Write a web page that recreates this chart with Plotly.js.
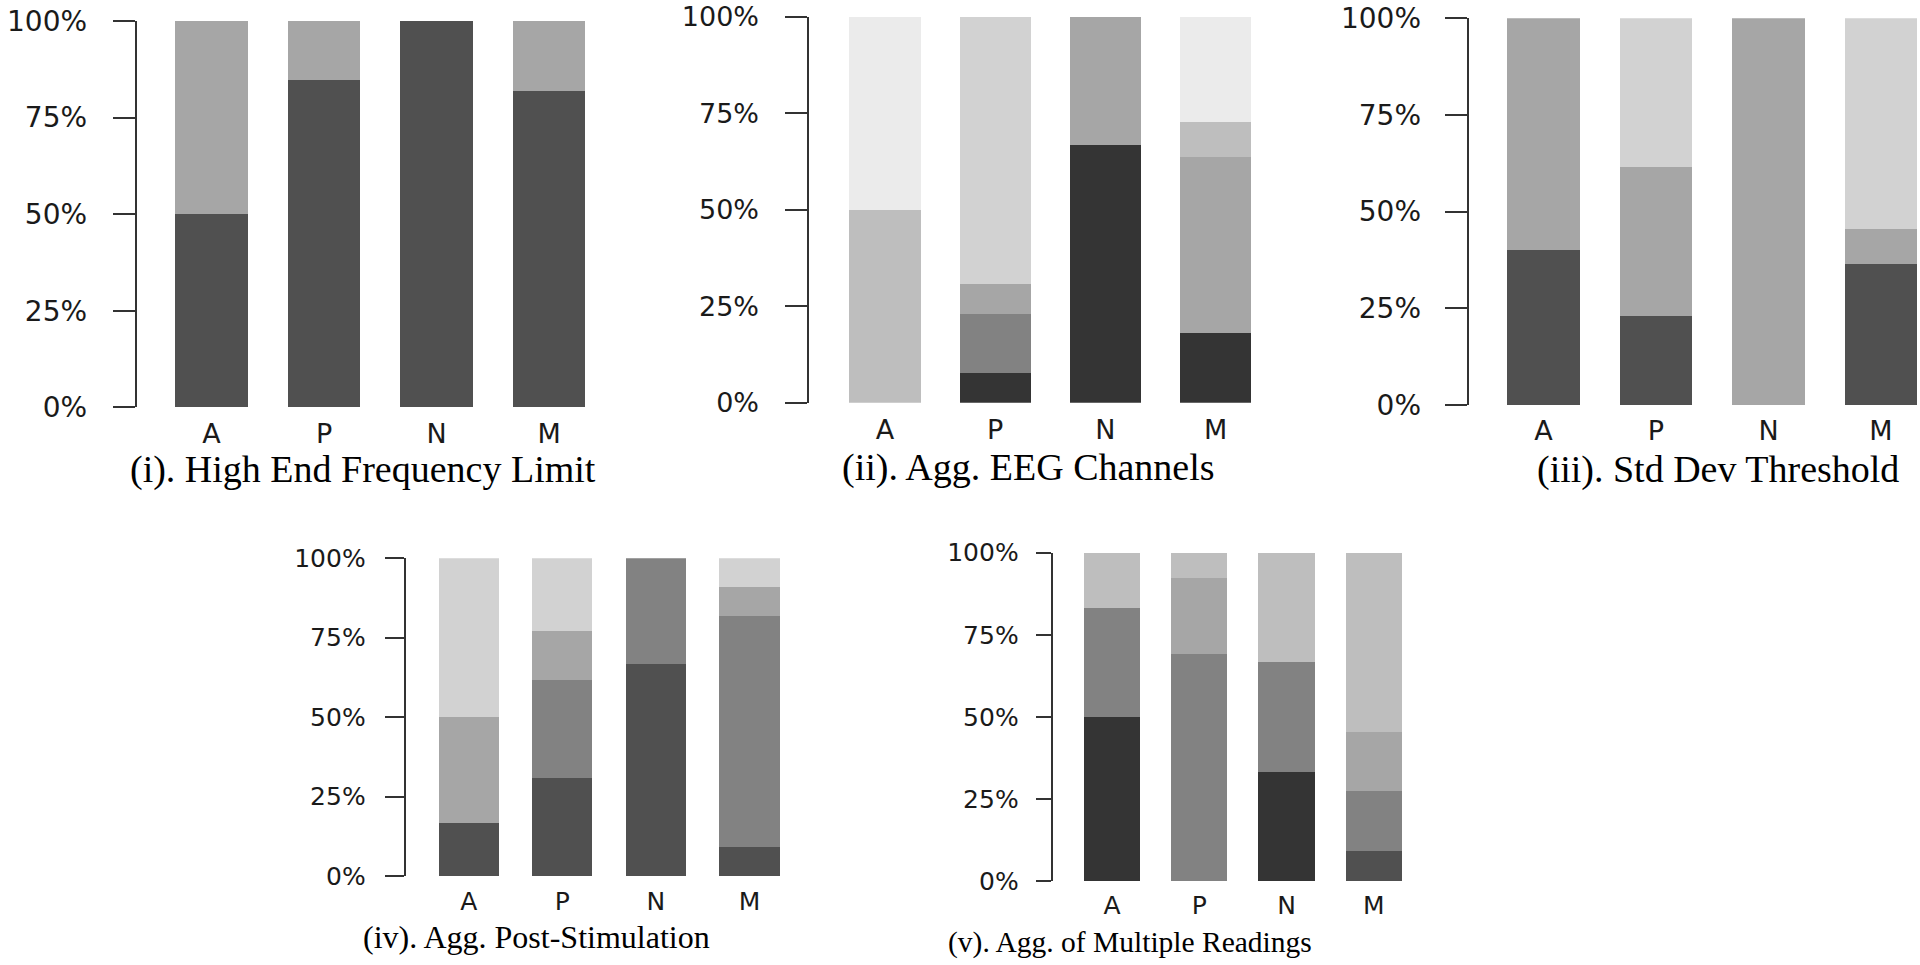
<!DOCTYPE html>
<html>
<head>
<meta charset="utf-8">
<script src="https://cdn.plot.ly/plotly-3.0.1.min.js"></script>
<style>
  html, body { margin: 0; padding: 0; background: #ffffff; }
  #chart { width: 1920px; height: 965px; }
</style>
</head>
<body>
<div id="chart"></div>
<script>
// ---------- DATA ----------
const categories = ['A', 'P', 'N', 'M'];
const yTicks = [0, 25, 50, 75, 100];
const yTickLabels = ['0%', '25%', '50%', '75%', '100%'];

const titleI = '(i). High End Frequency Limit';
const titleII = '(ii). Agg. EEG Channels';
const titleIII = '(iii). Std Dev Threshold';
const titleIV = '(iv). Agg. Post-Stimulation';
const titleV = '(v). Agg. of Multiple Readings';

// (i) High End Frequency Limit  (percent share, bottom -> top)
const i_s1 = [50.0, 84.6, 100.0, 81.8];
const i_s2 = [50.0, 15.4, 0.0, 18.2];

// (ii) Agg. EEG Channels
const ii_s1 = [0.0, 7.7, 66.7, 18.2];
const ii_s2 = [0.0, 15.4, 0.0, 0.0];
const ii_s3 = [0.0, 7.7, 33.3, 45.5];
const ii_s4 = [50.0, 0.0, 0.0, 9.1];
const ii_s5 = [0.0, 69.2, 0.0, 0.0];
const ii_s6 = [50.0, 0.0, 0.0, 27.2];

// (iii) Std Dev Threshold
const iii_s1 = [40.0, 23.1, 0.0, 36.4];
const iii_s2 = [60.0, 38.5, 100.0, 9.1];
const iii_s3 = [0.0, 38.4, 0.0, 54.5];

// (iv) Agg. Post-Stimulation
const iv_s1 = [16.7, 30.8, 66.7, 9.1];
const iv_s2 = [0.0, 30.8, 33.3, 72.7];
const iv_s3 = [33.3, 15.4, 0.0, 9.1];
const iv_s4 = [50.0, 23.0, 0.0, 9.1];

// (v) Agg. of Multiple Readings
const v_s1 = [50.0, 0.0, 33.3, 0.0];
const v_s2 = [0.0, 0.0, 0.0, 9.1];
const v_s3 = [33.3, 69.2, 33.4, 18.2];
const v_s4 = [0.0, 23.1, 0.0, 18.2];
const v_s5 = [16.7, 7.7, 33.3, 54.5];

// ---------- STYLE ----------
const C_DARKEST = '#343434';
const C_DARK = '#505050';
const C_MID = '#828282';
const C_GRAY = '#a6a6a6';
const C_LIGHT = '#bebebe';
const C_LIGHTER = '#d2d2d2';
const C_LIGHTEST = '#ebebeb';

const W = 1920, H = 965;

// panel geometry in pixels
const panels = [
  { title: titleI, series: [[i_s1, C_DARK], [i_s2, C_GRAY]],
    axisX: 136.7, centerA: 211.6, spacing: 112.5, right: 640, yTop: 21, yBot: 407.3,
    ticklen: 22, standoff: 20, tickFont: 28, catFont: 27, catStand: 8,
    tx: 363, ty: 470, tFont: 38 },
  { title: titleII, series: [[ii_s1, C_DARKEST], [ii_s2, C_MID], [ii_s3, C_GRAY], [ii_s4, C_LIGHT], [ii_s5, C_LIGHTER], [ii_s6, C_LIGHTEST]],
    axisX: 809.4, centerA: 885, spacing: 110.2, right: 1290, yTop: 17, yBot: 402.7,
    ticklen: 22, standoff: 21, tickFont: 27, catFont: 27, catStand: 8,
    tx: 1028, ty: 467, tFont: 38 },
  { title: titleIII, series: [[iii_s1, C_DARK], [iii_s2, C_GRAY], [iii_s3, C_LIGHTER]],
    axisX: 1468.6, centerA: 1543.5, spacing: 112.5, right: 1920, yTop: 18.3, yBot: 405,
    ticklen: 22, standoff: 18, tickFont: 28, catFont: 27, catStand: 7,
    tx: 1718, ty: 469, tFont: 38 },
  { title: titleIV, series: [[iv_s1, C_DARK], [iv_s2, C_MID], [iv_s3, C_GRAY], [iv_s4, C_LIGHTER]],
    axisX: 405.7, centerA: 468.7, spacing: 93.6, right: 800, yTop: 558.3, yBot: 876,
    ticklen: 19, standoff: 14, tickFont: 25, catFont: 25, catStand: 8,
    tx: 536.7, ty: 937, tFont: 32 },
  { title: titleV, series: [[v_s1, C_DARKEST], [v_s2, C_DARK], [v_s3, C_MID], [v_s4, C_GRAY], [v_s5, C_LIGHT]],
    axisX: 1052.7, centerA: 1112, spacing: 87.3, right: 1420, yTop: 552.7, yBot: 881,
    ticklen: 15, standoff: 12, tickFont: 25, catFont: 25, catStand: 7,
    tx: 1130, ty: 942, tFont: 29.5 }
];

const xIdx = categories.map((c, i) => i);
const traces = [];
const layout = {
  width: W, height: H,
  margin: { l: 0, r: 0, t: 0, b: 0, pad: 0 },
  paper_bgcolor: '#ffffff', plot_bgcolor: 'rgba(0,0,0,0)',
  barmode: 'stack', showlegend: false, hovermode: false,
  annotations: []
};

panels.forEach((p, k) => {
  const n = k + 1;
  const xa = n === 1 ? 'x' : 'x' + n;
  const ya = n === 1 ? 'y' : 'y' + n;
  const xk = n === 1 ? 'xaxis' : 'xaxis' + n;
  const yk = n === 1 ? 'yaxis' : 'yaxis' + n;
  p.series.forEach(([vals, col]) => {
    traces.push({
      type: 'bar', x: xIdx, y: vals, xaxis: xa, yaxis: ya,
      width: 0.645, marker: { color: col, line: { width: 0 } },
      hoverinfo: 'skip'
    });
  });
  const r0 = -(p.centerA - p.axisX) / p.spacing;
  const r1 = r0 + (p.right - p.axisX) / p.spacing;
  layout[xk] = {
    domain: [p.axisX / W, p.right / W],
    range: [r0, r1], anchor: ya,
    tickmode: 'array', tickvals: xIdx, ticktext: categories,
    ticks: '', showline: false, showgrid: false, zeroline: false,
    ticklabelstandoff: p.catStand, ticklabeloverflow: 'allow',
    tickfont: { family: 'DejaVu Sans, Arial, sans-serif', size: p.catFont, color: '#1a1a1a' },
    fixedrange: true
  };
  layout[yk] = {
    domain: [1 - p.yBot / H, 1 - p.yTop / H],
    range: [0, 100], anchor: xa,
    tickmode: 'array', tickvals: yTicks, ticktext: yTickLabels,
    ticks: 'outside', ticklen: p.ticklen, tickwidth: 2, tickcolor: '#333333',
    showline: true, linewidth: 2, linecolor: '#333333',
    showgrid: false, zeroline: false,
    ticklabelstandoff: p.standoff, ticklabeloverflow: 'allow',
    tickfont: { family: 'DejaVu Sans, Arial, sans-serif', size: p.tickFont, color: '#1a1a1a' },
    fixedrange: true
  };
  layout.annotations.push({
    text: p.title, xref: 'paper', yref: 'paper',
    x: p.tx / W, y: 1 - p.ty / H, xanchor: 'center', yanchor: 'middle',
    showarrow: false,
    font: { family: 'Liberation Serif, Times New Roman, serif', size: p.tFont, color: '#000000' }
  });
});

Plotly.newPlot('chart', traces, layout, { displayModeBar: false, staticPlot: true });
</script>
</body>
</html>
